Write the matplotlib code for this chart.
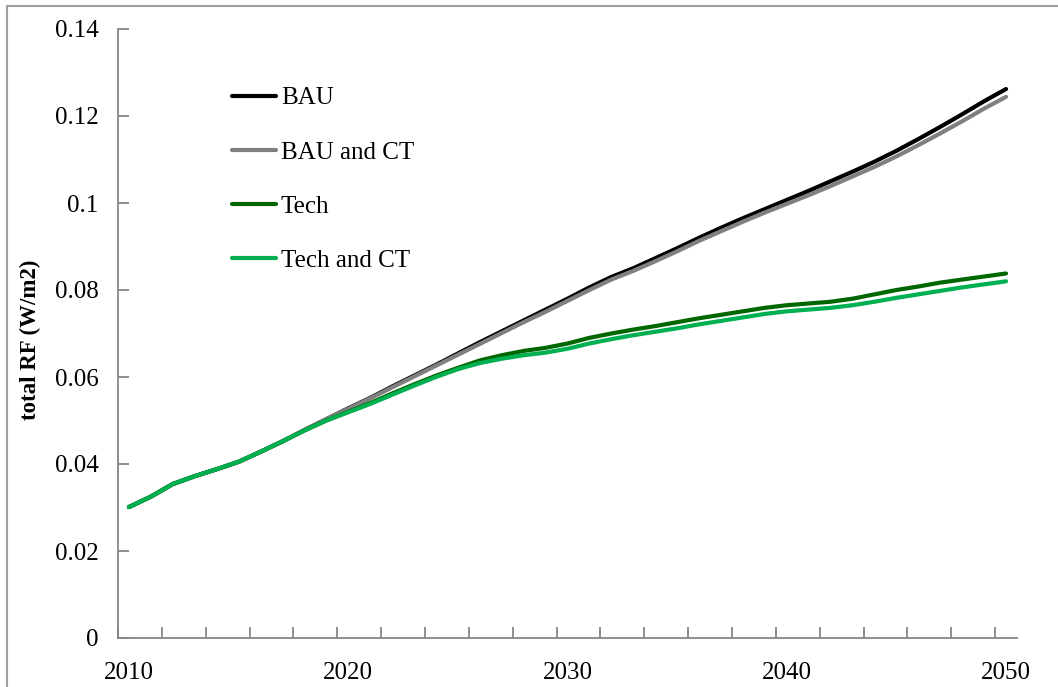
import matplotlib.pyplot as plt
from matplotlib.patches import Rectangle
from matplotlib.ticker import FixedLocator, FuncFormatter

plt.rcParams['font.family'] = ['Liberation Serif', 'DejaVu Serif']

# anos de la serie
years = list(range(2010, 2051))

# forzamiento radiativo total (W/m2) por escenario
bau = [0.0301, 0.0325, 0.0354, 0.0372, 0.0388, 0.0405, 0.0428, 0.0452, 0.0478, 0.0503,
       0.0528, 0.0552, 0.0578, 0.0603, 0.0628, 0.0654, 0.0680, 0.0705, 0.0730, 0.0755,
       0.0780, 0.0806, 0.0830, 0.0850, 0.0873, 0.0896, 0.0920, 0.0943, 0.0965, 0.0986,
       0.1007, 0.1028, 0.1050, 0.1072, 0.1095, 0.1120, 0.1147, 0.1175, 0.1204, 0.1234,
       0.1262]
bau_ct = [0.0301, 0.0325, 0.0354, 0.0372, 0.0388, 0.0405, 0.0428, 0.0452, 0.0478, 0.0503,
          0.0527, 0.0551, 0.0576, 0.0601, 0.0626, 0.0651, 0.0676, 0.0701, 0.0726, 0.0750,
          0.0775, 0.0800, 0.0824, 0.0844, 0.0866, 0.0889, 0.0913, 0.0935, 0.0957, 0.0978,
          0.0998, 0.1018, 0.1039, 0.1061, 0.1083, 0.1107, 0.1133, 0.1160, 0.1188, 0.1217,
          0.1244]
tech = [0.0301, 0.0325, 0.0354, 0.0372, 0.0388, 0.0405, 0.0428, 0.0452, 0.0477, 0.0500,
        0.0520, 0.0540, 0.0562, 0.0583, 0.0603, 0.0621, 0.0638, 0.0650, 0.0660, 0.0667,
        0.0677, 0.0690, 0.0700, 0.0709, 0.0717, 0.0726, 0.0735, 0.0743, 0.0751, 0.0759,
        0.0765, 0.0769, 0.0773, 0.0780, 0.0790, 0.0800, 0.0808, 0.0817, 0.0824, 0.0831,
        0.0838]
tech_ct = [0.0301, 0.0325, 0.0354, 0.0372, 0.0388, 0.0405, 0.0428, 0.0452, 0.0477, 0.0500,
           0.0519, 0.0538, 0.0559, 0.0580, 0.0600, 0.0618, 0.0632, 0.0642, 0.0650, 0.0656,
           0.0665, 0.0677, 0.0687, 0.0696, 0.0704, 0.0712, 0.0721, 0.0729, 0.0737, 0.0745,
           0.0751, 0.0755, 0.0759, 0.0765, 0.0773, 0.0782, 0.0790, 0.0798, 0.0806, 0.0813,
           0.0820]

series = [
    ("BAU", bau, "#000000"),
    ("BAU and CT", bau_ct, "#808080"),
    ("Tech", tech, "#006600"),
    ("Tech and CT", tech_ct, "#00B050"),
]

fig = plt.figure(figsize=(10.58, 6.87), dpi=100)
ax = fig.add_axes([118 / 1058, 1 - 638 / 687, 899 / 1058, 609 / 687])

for nombre, valores, color in series:
    ax.plot(years, valores, color=color, lw=3, label=nombre, solid_capstyle="round")

ax.set_xlim(2009.5, 2050.5)
ax.set_ylim(0, 0.14)

# ejes estilo Excel: grises, sin marco superior ni derecho
eje = "#868686"
for lado in ["top", "right"]:
    ax.spines[lado].set_visible(False)
for lado in ["left", "bottom"]:
    ax.spines[lado].set_color(eje)
    ax.spines[lado].set_linewidth(1.3)

ax.set_yticks([0, 0.02, 0.04, 0.06, 0.08, 0.10, 0.12, 0.14])
ax.yaxis.set_major_formatter(FuncFormatter(lambda v, p: f"{v:g}"))
ax.tick_params(axis="y", direction="in", length=8, width=1.3, color=eje,
               labelsize=18, pad=14)

ax.set_xticks([2010, 2020, 2030, 2040, 2050])
ax.xaxis.set_minor_locator(FixedLocator([2009.5 + 2 * k for k in range(21)]))
ax.tick_params(axis="x", which="major", length=0, labelsize=18, pad=17)
ax.tick_params(axis="x", which="minor", direction="in", length=8, width=1.3, color=eje)

ax.set_ylabel("total RF (W/m2)", fontsize=16.5, fontweight="bold")
ax.yaxis.set_label_coords(-0.086, 0.49)

ax.legend(loc="upper left", bbox_to_anchor=(0.127, 0.905), frameon=False,
          fontsize=18, handlelength=1.75, handletextpad=0.2, labelspacing=1.27,
          borderpad=0, borderaxespad=0)

# marco gris exterior del grafico
fig.patches.append(Rectangle((7 / 1058, -0.2), 2, 1.2 - 6 / 687, transform=fig.transFigure,
                             fill=False, edgecolor="#A0A0A0", lw=1.5))

fig.savefig("out.png", dpi=100)
